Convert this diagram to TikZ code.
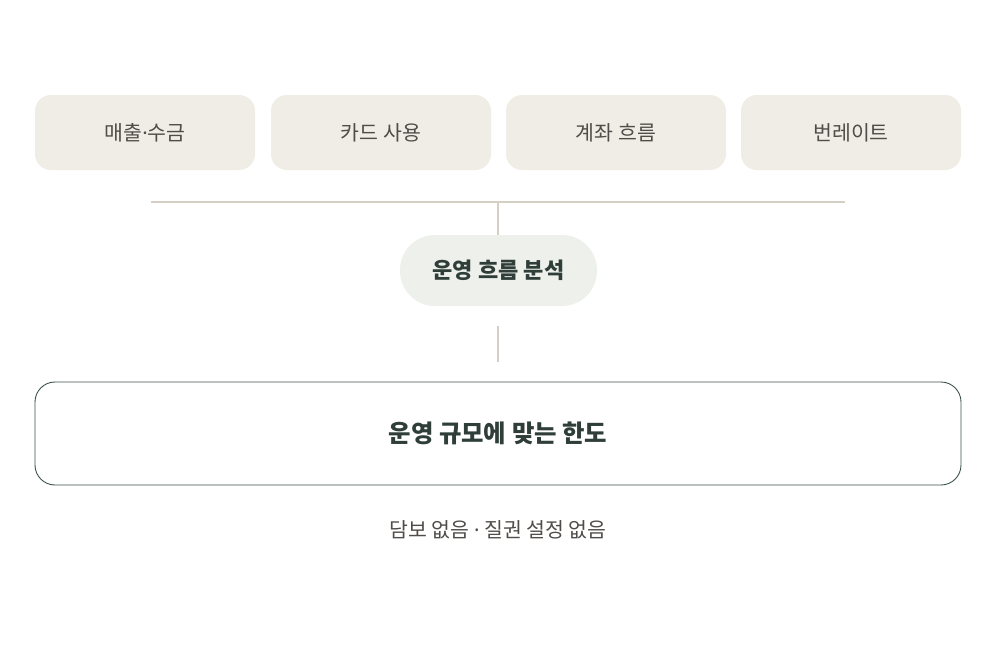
\documentclass[tikz,border=0pt]{standalone}
\usepackage{fontspec}
\setmainfont{Noto Sans CJK KR}
\newfontfamily\latinfont{Noto Sans}
\newcommand{\mdot}{{\latinfont ·}}
\definecolor{boxfill}{HTML}{F0EDE6}
\definecolor{pillfill}{HTML}{EEF0EC}
\definecolor{linec}{HTML}{D6CFC4}
\definecolor{darkg}{HTML}{2F3E39}
\definecolor{bordg}{HTML}{3D524C}
\definecolor{greytext}{HTML}{4F4C49}
\tikzset{
  src/.style={fill=boxfill, rounded corners=16pt, minimum width=220pt, minimum height=75pt, inner sep=0pt, text=greytext, font=\fontsize{20.5pt}{24pt}\selectfont},
  pill/.style={fill=pillfill, rounded corners=35pt, minimum width=197pt, minimum height=71pt, inner sep=0pt, text=darkg, font=\bfseries\fontsize{22pt}{26pt}\selectfont},
  result/.style={draw=bordg, line width=0.9pt, rounded corners=20pt, minimum width=926pt, minimum height=103pt, inner sep=0pt, text=darkg, font=\bfseries\fontsize{24.4pt}{28pt}\selectfont},
  conn/.style={draw=linec, line width=1.6pt},
  note/.style={text=greytext, font=\fontsize{20.5pt}{24pt}\selectfont, inner sep=0pt}
}
\begin{document}
\begin{tikzpicture}[x=1pt,y=-1pt]
\useasboundingbox (0,0) rectangle (988,661);
\fill[white] (0,0) rectangle (988,661);
\node[src] (s1) at (145,132.5) {매출\mdot 수금};
\node[src] (s2) at (381,132.5) {카드 사용};
\node[src] (s3) at (616,132.5) {계좌 흐름};
\node[src] (s4) at (851,132.5) {번레이트};
\node[pill] (p) at (498.5,270.5) {운영 흐름 분석};
\node[result] (r) at (498,433.5) {운영 규모에 맞는 한도};
\node[note] (n) at (498,530) {담보 없음 \mdot{} 질권 설정 없음};
\coordinate (hl) at (151,202);
\coordinate (hr) at (845,202);
\coordinate (hm) at (498,202);
\coordinate (v1) at (498,326);
\coordinate (v2) at (498,362);
\draw[conn] (hl) -- (hr);
\draw[conn] (hm) -- (p.north -| hm);
\draw[conn] (v1) -- (v2);
\end{tikzpicture}
\end{document}
